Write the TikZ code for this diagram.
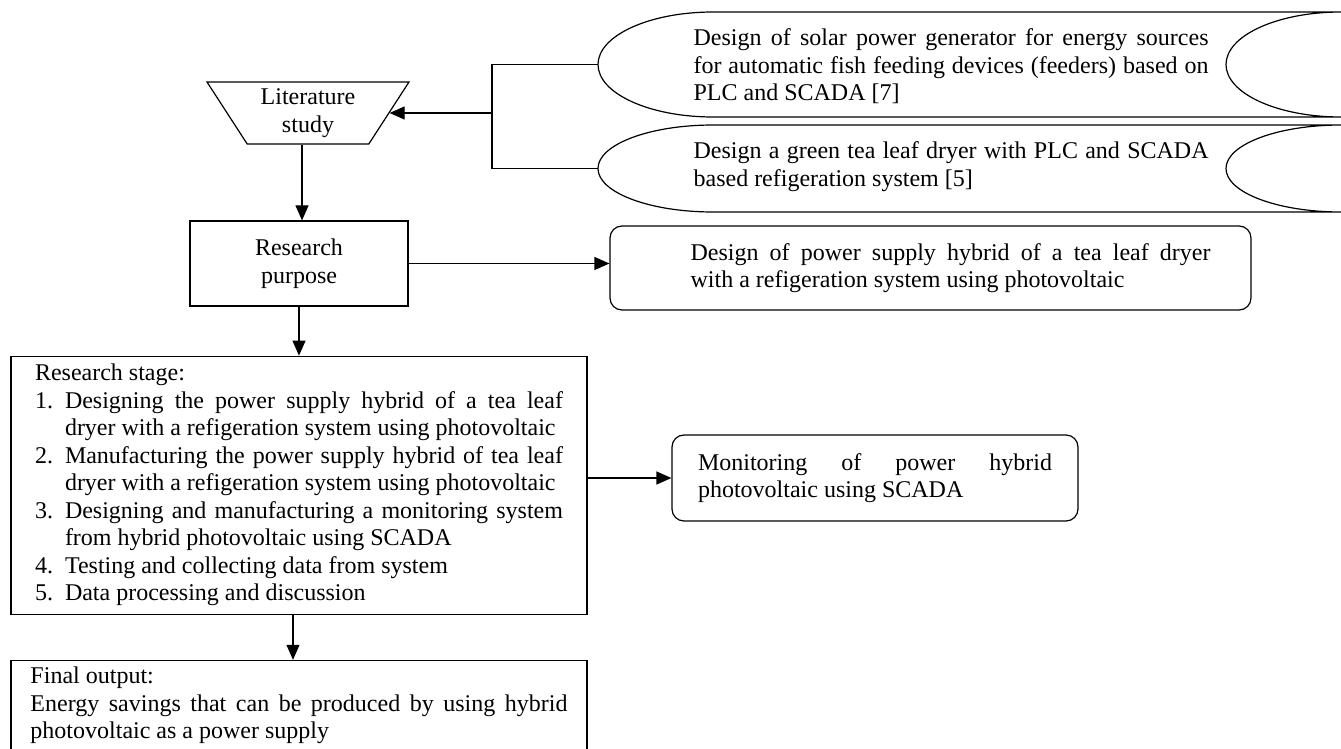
\documentclass[tikz,border=0pt]{standalone}
\usepackage{fontspec}
\setmainfont{Liberation Serif}
\usetikzlibrary{shapes.geometric,arrows.meta,positioning}
\setlength{\parindent}{0pt}
\newcommand{\stageitem}[2]{\par\hangindent=15pt\hangafter=1\noindent\makebox[15pt][l]{#1}#2}

\begin{document}
\begin{tikzpicture}[x=0.5pt, y=-0.5pt, line width=0.6pt,
    every node/.style={font=\fontsize{12}{13.75}\selectfont},
    box/.style={draw, rectangle, align=center},
    roundbox/.style={draw, rectangle, rounded corners=6pt},
    store/.style={rectangle, draw=none, outer sep=0pt, minimum width=371.5pt},
    txt/.style={text width=#1, align=justify, inner sep=0pt, anchor=west},
    arr/.style={-{Triangle[length=7.5pt,width=6.5pt]}}]
\useasboundingbox (0,0) rectangle (1341,749);

% left column
\node[draw, trapezium, trapezium left angle=123, trapezium right angle=123,
  trapezium stretches body, minimum width=101pt, minimum height=31pt,
  align=center] (lit) at (308,113) {Literature\\study};
\node[box, minimum width=109pt, minimum height=42.5pt] (rp) at (299,263.5) {Research\\purpose};
\node[draw, text width=264pt, align=justify, minimum width=288pt, minimum height=129pt,
  below=24.5pt of rp] (rs) {Research stage:
  \stageitem{1.}{Designing the power supply hybrid of a tea leaf\linebreak dryer with a refigeration system using photovoltaic}
  \stageitem{2.}{Manufacturing the power supply hybrid of tea leaf\linebreak dryer with a refigeration system using photovoltaic}
  \stageitem{3.}{Designing and manufacturing a monitoring system\linebreak from hybrid photovoltaic using SCADA}
  \stageitem{4.}{Testing and collecting data from system}
  \stageitem{5.}{Data processing and discussion}};
\node[draw, text width=268.5pt, align=justify, minimum width=288pt, minimum height=44.5pt,
  below=22.5pt of rs] (fo) {Final output:\par
  Energy savings that can be produced by using hybrid\linebreak photovoltaic as a power supply};

% references (stored data)
\node[store, minimum height=52.5pt] (s1) at (969.5,64.5) {};
\node[store, minimum height=43.5pt] (s2) at (969.5,168.5) {};
\foreach \s/\r in {s1/26.25pt, s2/21.75pt}
  \draw (\s.north east) -- ([xshift=57.5pt]\s.north west)
    arc[start angle=90, end angle=270, x radius=57.5pt, y radius=\r]
    -- (\s.south east)
    arc[start angle=270, end angle=90, x radius=57.5pt, y radius=\r];
\node[txt=257.5pt] (s1txt) at (693,66.5) {Design of solar power generator for energy sources\linebreak
  for automatic fish feeding devices (feeders) based on\linebreak PLC and SCADA [7]};
\node[txt=257.5pt] (s2txt) at (693,166.5) {Design a green tea leaf dryer with PLC and SCADA\linebreak
  based refigeration system [5]};

% outputs
\node[roundbox, minimum width=320.5pt, minimum height=42pt] (pur) at (930.5,268) {};
\node[txt=260pt] (purtxt) at (690,268) {Design of power supply hybrid of a tea leaf dryer\linebreak
  with a refigeration system using photovoltaic};
\node[roundbox, text width=177pt, align=justify, minimum width=203pt, minimum height=43pt]
  (mon) at (875,478) {Monitoring of power hybrid\linebreak photovoltaic using SCADA};

% connectors
\coordinate (jn) at (492,113);
\draw (s1.west) -| (jn |- s2.west) -- (s2.west);
\draw[arr] (jn |- lit.east) -- (lit.east);
\draw[arr] ([xshift=-3pt]lit.south) -- ([xshift=-3pt]lit.south |- rp.north);
\draw[arr] (rp.east) -- (rp.east -| pur.west);
\draw[arr] (rp) -- (rs);
\draw[arr] ([xshift=-3pt]rs.south) -- ([xshift=-3pt]fo.north);
\draw[arr] (rs.east |- mon.west) -- (mon.west);
\end{tikzpicture}
\end{document}
